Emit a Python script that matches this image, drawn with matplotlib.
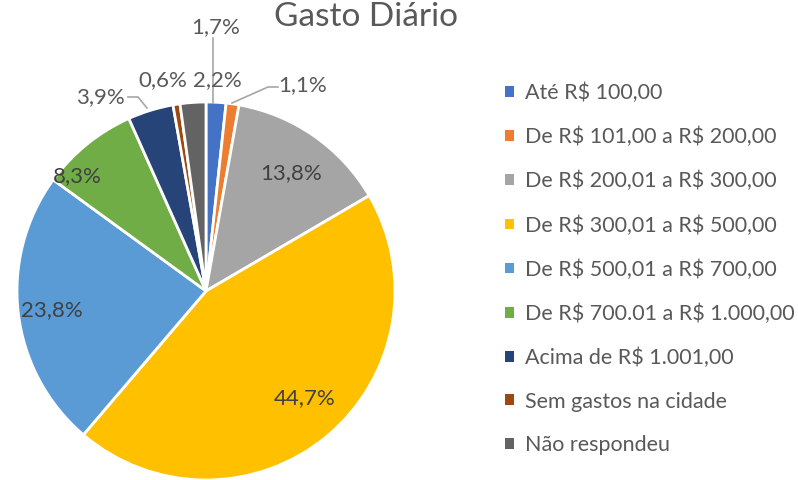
import matplotlib
matplotlib.use("Agg")
import matplotlib.pyplot as plt
from matplotlib.patches import Patch
import numpy as np

plt.rcParams['font.family'] = ['Lato', 'DejaVu Sans']
plt.rcParams['text.parse_math'] = False

title = "Gasto Diário"
categories = ["Até R$ 100,00", "De R$ 101,00 a R$ 200,00", "De R$ 200,01 a R$ 300,00",
              "De R$ 300,01 a R$ 500,00", "De R$ 500,01 a R$ 700,00",
              "De R$ 700.01 a R$ 1.000,00", "Acima de R$ 1.001,00",
              "Sem gastos na cidade", "Não respondeu"]
values = [1.7, 1.1, 13.8, 44.7, 23.8, 8.3, 3.9, 0.6, 2.2]
labels = ["1,7%", "1,1%", "13,8%", "44,7%", "23,8%", "8,3%", "3,9%", "0,6%", "2,2%"]
colors = ["#4472C4", "#ED7D31", "#A5A5A5", "#FFC000", "#5B9BD5",
          "#70AD47", "#264478", "#9E480E", "#636363"]

W, H = 798, 480
fig = plt.figure(figsize=(W / 100, H / 100), dpi=100)
ax = fig.add_axes([0, 0, 1, 1])
cx, cy, R = 206, 291, 189  # pixel center and radius

wedges, _ = ax.pie(values, colors=colors, startangle=90, counterclock=False,
                   radius=1, wedgeprops=dict(edgecolor="white", linewidth=2))
ax.set_aspect('auto')
ax.set_xlim(-cx / R, (W - cx) / R)
ax.set_ylim((cy - H) / R, cy / R)
ax.axis('off')

def px(x, y):
    return ((x - cx) / R, (cy - y) / R)

tc = "#595959"
fs = 16
# inside labels
ax.text(*px(291, 173), labels[2], ha='center', va='center', fontsize=fs, color="#404040")
ax.text(*px(305, 398), labels[3], ha='center', va='center', fontsize=fs, color="#404040")
ax.text(*px(52, 310), labels[4], ha='center', va='center', fontsize=fs, color="#404040")
ax.text(*px(77, 176), labels[5], ha='center', va='center', fontsize=fs, color="#404040")

lc = "#A6A6A6"
# outside labels with leaders
ax.text(*px(216, 27), labels[0], ha='center', va='center', fontsize=fs, color=tc)
ax.plot(*zip(px(213, 103), px(213, 38)), color=lc, lw=1.2)
ax.text(*px(217, 80), labels[8], ha='center', va='center', fontsize=fs, color=tc)
ax.text(*px(163, 80), labels[7], ha='center', va='center', fontsize=fs, color=tc)
ax.text(*px(100, 97), labels[6], ha='center', va='center', fontsize=fs, color=tc)
ax.plot(*zip(px(128, 97), px(138, 97), px(147, 108)), color=lc, lw=1.2)
ax.text(*px(303, 85), labels[1], ha='center', va='center', fontsize=fs, color=tc)
ax.plot(*zip(px(278, 87), px(268, 87), px(232, 103)), color=lc, lw=1.2)

fig.text(366 / W, 1 - 17 / H, title, ha='center', va='center', fontsize=24, color=tc)

handles = [Patch(facecolor=c, edgecolor='none') for c in colors]
fig.legend(handles, categories, loc='upper left', bbox_to_anchor=(505 / W, 1 - 83 / H),
           frameon=False, fontsize=15.5, labelcolor=tc, handlelength=0.4, handleheight=0.4,
           handletextpad=0.55, labelspacing=1.1, borderaxespad=0, borderpad=0)

fig.savefig("out.png", dpi=100)
